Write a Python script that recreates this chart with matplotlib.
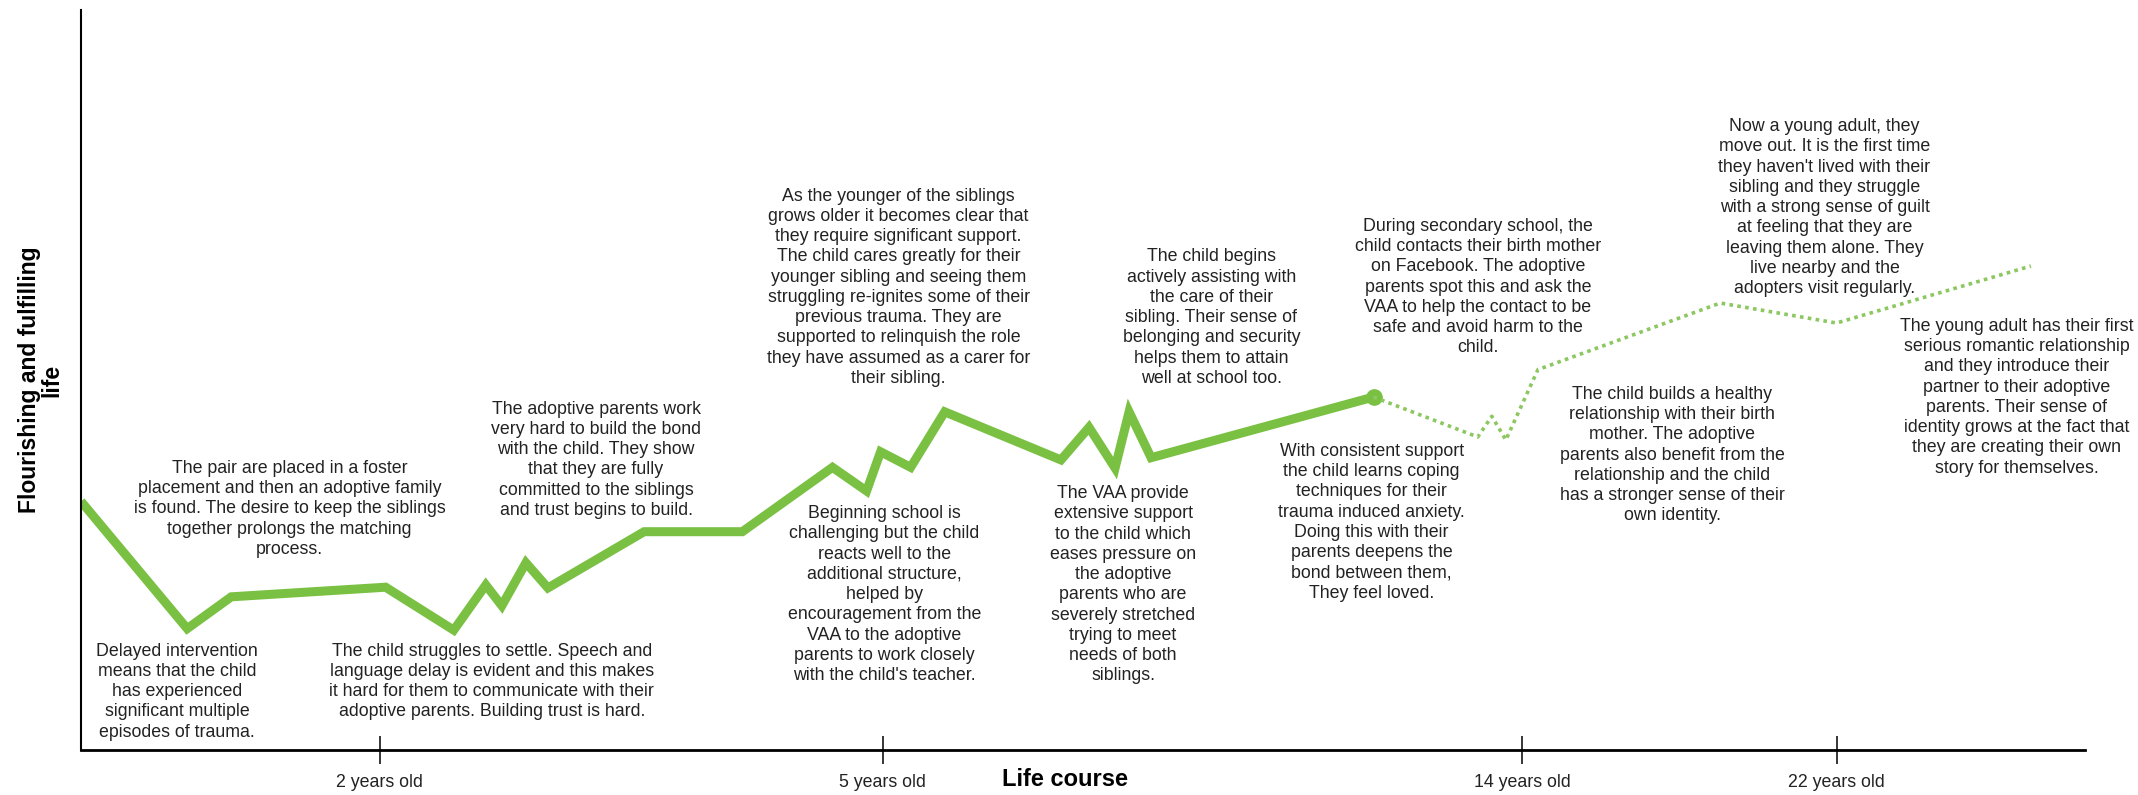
import matplotlib
matplotlib.use("Agg")
import matplotlib.pyplot as plt

plt.rcParams["font.family"] = ["Liberation Sans", "DejaVu Sans"]

# life course position (0-100) and how flourishing life is (0-100)
solid_x = [0, 5.3, 7.5, 15.2, 18.6, 20.2, 21.0, 22.2, 23.3, 28.1, 33.0,
           37.5, 39.2, 39.9, 41.4, 43.1, 48.9, 50.3, 51.6, 52.3, 53.4, 64.5]
solid_y = [33.6, 16.4, 20.7, 22.0, 16.2, 22.3, 19.5, 25.3, 21.9, 29.5, 29.5,
           38.2, 35.0, 40.3, 38.2, 45.7, 39.2, 43.6, 38.1, 45.7, 39.5, 47.7]

dotted_x = [64.5, 69.7, 70.4, 71.1, 72.7, 81.8, 87.6, 97.3]
dotted_y = [47.7, 42.3, 45.1, 41.9, 51.4, 60.4, 57.7, 65.4]

tick_pos = [14.9, 40.0, 71.9, 87.6]
tick_labels = ["2 years old", "5 years old", "14 years old", "22 years old"]

notes = [
    "Delayed intervention\nmeans that the child\nhas experienced\nsignificant multiple\nepisodes of trauma.",
    "The child struggles to settle. Speech and\nlanguage delay is evident and this makes\nit hard for them to communicate with their\nadoptive parents. Building trust is hard.",
    "The pair are placed in a foster\nplacement and then an adoptive family\nis found. The desire to keep the siblings\ntogether prolongs the matching\nprocess.",
    "The adoptive parents work\nvery hard to build the bond\nwith the child. They show\nthat they are fully\ncommitted to the siblings\nand trust begins to build.",
    "Beginning school is\nchallenging but the child\nreacts well to the\nadditional structure,\nhelped by\nencouragement from the\nVAA to the adoptive\nparents to work closely\nwith the child's teacher.",
    "As the younger of the siblings\ngrows older it becomes clear that\nthey require significant support.\nThe child cares greatly for their\nyounger sibling and seeing them\nstruggling re-ignites some of their\nprevious trauma. They are\nsupported to relinquish the role\nthey have assumed as a carer for\ntheir sibling.",
    "The child begins\nactively assisting with\nthe care of their\nsibling. Their sense of\nbelonging and security\nhelps them to attain\nwell at school too.",
    "The VAA provide\nextensive support\nto the child which\neases pressure on\nthe adoptive\nparents who are\nseverely stretched\ntrying to meet\nneeds of both\nsiblings.",
    "During secondary school, the\nchild contacts their birth mother\non Facebook. The adoptive\nparents spot this and ask the\nVAA to help the contact to be\nsafe and avoid harm to the\nchild.",
    "With consistent support\nthe child learns coping\ntechniques for their\ntrauma induced anxiety.\nDoing this with their\nparents deepens the\nbond between them,\nThey feel loved.",
    "Now a young adult, they\nmove out. It is the first time\nthey haven't lived with their\nsibling and they struggle\nwith a strong sense of guilt\nat feeling that they are\nleaving them alone. They\nlive nearby and the\nadopters visit regularly.",
    "The child builds a healthy\nrelationship with their birth\nmother. The adoptive\nparents also benefit from the\nrelationship and the child\nhas a stronger sense of their\nown identity.",
    "The young adult has their first\nserious romantic relationship\nand they introduce their\npartner to their adoptive\nparents. Their sense of\nidentity grows at the fact that\nthey are creating their own\nstory for themselves.",
]
note_x = [4.8, 20.5, 10.4, 25.7, 40.1, 40.8, 56.4, 52.0, 69.7, 64.4, 87.0, 79.4, 96.6]
note_y = [14.5, 14.5, 39.2, 47.2, 33.1, 76.0, 67.8, 35.8, 71.9, 41.5, 85.4, 49.2, 58.4]

green = "#7ac143"

fig = plt.figure(figsize=(21.38, 7.95), dpi=100)
ax = fig.add_axes([81 / 2138, 45 / 795, 2004 / 2138, 740 / 795])

ax.plot(solid_x, solid_y, color=green, lw=6.5, solid_joinstyle="miter",
        solid_capstyle="butt")
ax.plot(solid_x[-1], solid_y[-1], "o", color=green, ms=11)
ax.plot(dotted_x, dotted_y, color="#8dc760", lw=2.6, linestyle=(0, (1, 1.2)),
        dash_capstyle="butt")

for x, y, t in zip(note_x, note_y, notes):
    ax.text(x, y, t, ha="center", va="top", fontsize=12.8, linespacing=1.25,
            color="#222222")

ax.set_xlim(0, 100)
ax.set_ylim(0, 100)
ax.set_xticks(tick_pos)
ax.set_xticklabels(tick_labels, fontsize=12.8, color="#222222")
ax.tick_params(axis="x", direction="inout", length=20, width=1.1, pad=7)
ax.set_yticks([])
ax.spines["top"].set_visible(False)
ax.spines["right"].set_visible(False)
ax.spines["left"].set_linewidth(1.5)
ax.spines["bottom"].set_linewidth(2)

ax.set_xlabel("Life course", fontsize=17, fontweight="bold")
ax.xaxis.set_label_coords(0.491, -0.0405)
ax.xaxis.label.set_va("center")
ax.set_ylabel("Flourishing and fulfilling\nlife", fontsize=16.5, fontweight="bold",
              linespacing=0.95)
ax.yaxis.set_label_coords(-0.02, 0.5)
ax.yaxis.label.set_va("center")

fig.savefig("out.png", dpi=100)
